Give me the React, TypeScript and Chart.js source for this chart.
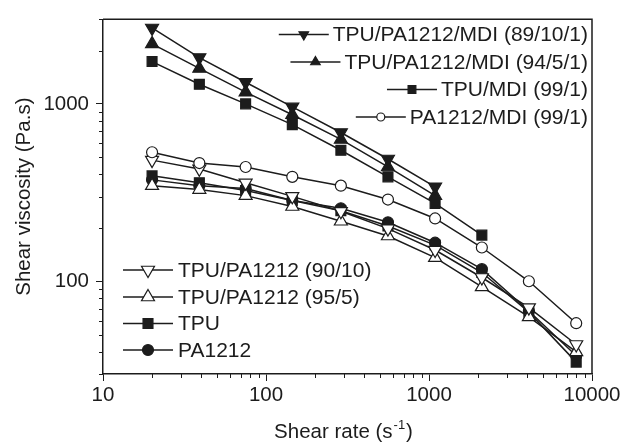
import React, { useEffect, useRef } from 'react';
import { Chart, registerables } from 'chart.js';
import { drawPoint } from 'chart.js/helpers';

Chart.register(...registerables);

// ---- data ----
const shearRates = [20, 39, 75, 145, 288, 560, 1090, 2110, 4100, 8000];
const mdi89 = [2680, 1825, 1325, 962, 690, 489, 341];
const mdi94 = [2180, 1585, 1165, 869, 631, 441, 304];
const tpuMdi = [1733, 1291, 1000, 764, 548, 388, 275, 182];
const pa1212Mdi = [534, 464, 441, 388, 346, 289, 226, 155, 100, 58];
const blend90 = [482, 430, 359, 301, 248, 198, 150, 105, 71, 44];
const blend95 = [346, 329, 304, 264, 218, 180, 136, 93, 63, 40];
const tpu = [393, 359, 325, 285, 250, 205, 160, 112, 67, 35];
const pa1212 = [373, 346, 333, 285, 258, 215, 165, 117, 68, 38];

const seriesNames = [
  'TPU/PA1212/MDI (89/10/1)',
  'TPU/PA1212/MDI (94/5/1)',
  'TPU/MDI (99/1)',
  'PA1212/MDI (99/1)',
  'TPU/PA1212 (90/10)',
  'TPU/PA1212 (95/5)',
  'TPU',
  'PA1212',
];
const xTickLabels = [10, 100, 1000, 10000];
const yTickLabels = [100, 1000];
const xAxisTitle = 'Shear rate (s';
const xAxisTitleSup = '-1';
const yAxisTitle = 'Shear viscosity (Pa.s)';

const FONT = '"Liberation Sans", Arial, Helvetica, sans-serif';
const INK = '#1c1c1c';

type Style = { pointStyle: string; rotation: number; radius: number; fill: string; legendRadius: number };
const styles: Style[] = [
  { pointStyle: 'triangle', rotation: 180, radius: 7.5, fill: INK, legendRadius: 5.5 },
  { pointStyle: 'triangle', rotation: 0, radius: 7.5, fill: INK, legendRadius: 5.5 },
  { pointStyle: 'rect', rotation: 0, radius: 7, fill: INK, legendRadius: 5.5 },
  { pointStyle: 'circle', rotation: 0, radius: 5.5, fill: '#ffffff', legendRadius: 4 },
  { pointStyle: 'triangle', rotation: 180, radius: 7.5, fill: '#ffffff', legendRadius: 7.5 },
  { pointStyle: 'triangle', rotation: 0, radius: 7.5, fill: '#ffffff', legendRadius: 7.5 },
  { pointStyle: 'rect', rotation: 0, radius: 7, fill: INK, legendRadius: 7 },
  { pointStyle: 'circle', rotation: 0, radius: 5.5, fill: INK, legendRadius: 5.5 },
];
const allSeries = [mdi89, mdi94, tpuMdi, pa1212Mdi, blend90, blend95, tpu, pa1212];

function decadeTicks(min: number, max: number): number[] {
  const out: number[] = [];
  for (let e = Math.floor(Math.log10(min)); e <= Math.ceil(Math.log10(max)); e++) {
    for (let k = 1; k <= 9; k++) {
      const v = k * Math.pow(10, e);
      if (v >= min - 1e-9 && v <= max + 1e-9) out.push(v);
    }
  }
  return out;
}
const isMajor = (v: number) => Math.abs(Math.log10(v) - Math.round(Math.log10(v))) < 1e-9;

const decorPlugin = {
  id: 'decor',
  afterDraw(chart: any) {
    const ctx = chart.ctx as CanvasRenderingContext2D;
    const area = chart.chartArea;
    const xs = chart.scales.x;
    const ys = chart.scales.y;
    ctx.save();
    // frame top & right
    ctx.strokeStyle = INK;
    ctx.lineWidth = 1.5;
    ctx.beginPath();
    ctx.moveTo(area.left, area.top);
    ctx.lineTo(area.right, area.top);
    ctx.lineTo(area.right, area.bottom);
    ctx.stroke();
    // minor ticks
    ctx.lineWidth = 1;
    ctx.beginPath();
    xs.ticks.forEach((t: any) => {
      if (isMajor(t.value)) return;
      const px = Math.round(xs.getPixelForValue(t.value)) + 0.5;
      ctx.moveTo(px, area.bottom);
      ctx.lineTo(px, area.bottom + 4);
    });
    ys.ticks.forEach((t: any) => {
      if (isMajor(t.value)) return;
      const py = Math.round(ys.getPixelForValue(t.value)) + 0.5;
      ctx.moveTo(area.left - 4, py);
      ctx.lineTo(area.left, py);
    });
    ctx.stroke();

    // axis titles
    ctx.fillStyle = INK;
    ctx.font = `20.5px ${FONT}`;
    ctx.textBaseline = 'alphabetic';
    const w1 = ctx.measureText(xAxisTitle).width;
    ctx.font = `13px ${FONT}`;
    const w2 = ctx.measureText(xAxisTitleSup).width;
    ctx.font = `20.5px ${FONT}`;
    const w3 = ctx.measureText(')').width;
    const total = w1 + w2 + w3 + 2;
    let tx = 343.5 - total / 2;
    const ty = 438;
    ctx.textAlign = 'left';
    ctx.fillText(xAxisTitle, tx, ty);
    tx += w1 + 1;
    ctx.font = `13px ${FONT}`;
    ctx.fillText(xAxisTitleSup, tx, ty - 9);
    tx += w2 + 1;
    ctx.font = `20.5px ${FONT}`;
    ctx.fillText(')', tx, ty);

    ctx.save();
    ctx.translate(24, (area.top + area.bottom) / 2);
    ctx.rotate(-Math.PI / 2);
    ctx.textAlign = 'center';
    ctx.textBaseline = 'middle';
    ctx.fillText(yAxisTitle, 0, 0);
    ctx.restore();

    // legends
    const drawEntry = (i: number, lineStart: number, y: number, r: number) => {
      const st = styles[i];
      ctx.strokeStyle = INK;
      ctx.lineWidth = 1.5;
      ctx.beginPath();
      ctx.moveTo(lineStart, y);
      ctx.lineTo(lineStart + 50, y);
      ctx.stroke();
      ctx.fillStyle = st.fill;
      ctx.lineWidth = 1.2;
      drawPoint(ctx, { pointStyle: st.pointStyle as any, rotation: st.rotation, radius: r, borderWidth: 1.2 } as any, lineStart + 25, y);
    };
    ctx.font = `21px ${FONT}`;
    ctx.textBaseline = 'middle';
    const topRows = [34.5, 62, 89.5, 117];
    for (let i = 0; i < 4; i++) {
      const text = seriesNames[i];
      const w = ctx.measureText(text).width;
      const textStart = 588 - w;
      drawEntry(i, textStart - 54, topRows[i], styles[i].legendRadius);
      ctx.fillStyle = INK;
      ctx.textAlign = 'left';
      ctx.fillText(text, textStart, topRows[i] + 1);
    }
    const botRows = [270, 297, 323.5, 350];
    for (let i = 4; i < 8; i++) {
      drawEntry(i, 123, botRows[i - 4], styles[i].legendRadius);
      ctx.fillStyle = INK;
      ctx.textAlign = 'left';
      ctx.fillText(seriesNames[i], 178, botRows[i - 4] + 1);
    }
    ctx.restore();
  },
};

export default function App() {
  const ref = useRef<HTMLCanvasElement | null>(null);
  useEffect(() => {
    if (!ref.current) return;
    const datasets = allSeries.map((vals, i) => ({
      label: seriesNames[i],
      data: vals.map((v, j) => ({ x: shearRates[j], y: v })),
      borderColor: INK,
      borderWidth: 1.5,
      backgroundColor: styles[i].fill,
      pointBackgroundColor: styles[i].fill,
      pointBorderColor: INK,
      pointBorderWidth: 1.2,
      pointStyle: styles[i].pointStyle as any,
      pointRotation: styles[i].rotation,
      pointRadius: styles[i].radius,
      tension: 0,
      fill: false,
    }));
    const chart = new Chart(ref.current, {
      type: 'line',
      data: { datasets },
      options: {
        animation: false,
        responsive: false,
        devicePixelRatio: 1,
        layout: { padding: { left: 0, top: 13, right: 31, bottom: 0 } },
        plugins: { legend: { display: false }, tooltip: { enabled: false } },
        scales: {
          x: {
            type: 'logarithmic',
            min: 10,
            max: 10000,
            afterBuildTicks: (s: any) => {
              s.ticks = decadeTicks(10, 10000).map((v) => ({ value: v }));
            },
            afterFit: (s: any) => {
              s.height = 74;
            },
            ticks: {
              autoSkip: false,
              maxRotation: 0,
              padding: 2,
              color: INK,
              font: { family: FONT, size: 20.5 },
              callback: (v: any) => (xTickLabels.includes(Number(v)) ? String(v) : ''),
            },
            grid: {
              display: true,
              drawOnChartArea: false,
              drawTicks: true,
              tickLength: 7,
              tickColor: (c: any) => (c.tick && isMajor(c.tick.value) ? INK : 'rgba(0,0,0,0)'),
            },
            border: { display: true, color: INK, width: 1.5 },
          },
          y: {
            type: 'logarithmic',
            min: 30,
            max: 3000,
            afterBuildTicks: (s: any) => {
              s.ticks = decadeTicks(30, 3000).map((v) => ({ value: v }));
            },
            afterFit: (s: any) => {
              s.width = 103;
            },
            ticks: {
              autoSkip: false,
              padding: 7,
              color: INK,
              font: { family: FONT, size: 20.5 },
              callback: (v: any) => (yTickLabels.includes(Number(v)) ? String(v) : ''),
            },
            grid: {
              display: true,
              drawOnChartArea: false,
              drawTicks: true,
              tickLength: 7,
              tickColor: (c: any) => (c.tick && isMajor(c.tick.value) ? INK : 'rgba(0,0,0,0)'),
            },
            border: { display: true, color: INK, width: 1.5 },
          },
        },
      },
      plugins: [decorPlugin],
    });
    return () => chart.destroy();
  }, []);
  return (
    <div style={{ position: 'absolute', left: 0, top: 0, width: 623, height: 448, background: '#fff' }}>
      <canvas ref={ref} width={623} height={448} style={{ display: 'block' }} />
    </div>
  );
}
